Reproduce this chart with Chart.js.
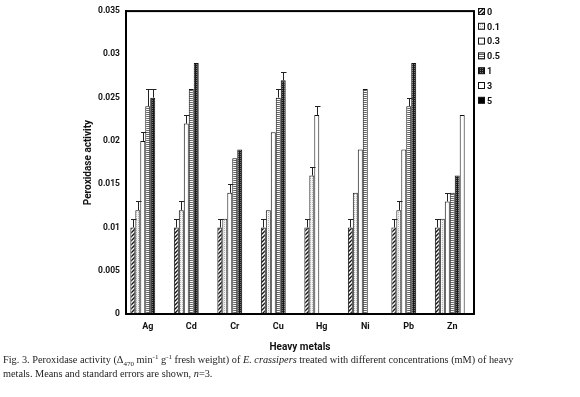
<!DOCTYPE html>
<html><head><meta charset="utf-8">
<script src="https://cdn.jsdelivr.net/npm/chart.js@4/dist/chart.umd.min.js"></script>
<style>
html,body{margin:0;padding:0;background:#fff;width:580px;height:397px;overflow:hidden;}
#wrap{position:relative;width:580px;height:397px;}
canvas{position:absolute;left:0;top:0;}
#cap{position:absolute;left:3px;top:353px;width:575px;font-family:"Liberation Serif","Times New Roman",serif;font-size:10.3px;line-height:14px;color:#222;white-space:nowrap;}
#cap sub,#cap sup{font-size:7px;line-height:0;}
</style></head>
<body><div id="wrap"><canvas id="c" width="580" height="355"></canvas>
<div id="cap">Fig. 3. Peroxidase activity (Δ<sub>470</sub> min<sup>-1</sup> g<sup>-1</sup> fresh weight) of <i>E. crassipers</i> treated with different concentrations (mM) of heavy<br>metals. Means and standard errors are shown, <i>n</i>=3.</div></div>
<script>
const categories = ["Ag","Cd","Cr","Cu","Hg","Ni","Pb","Zn"];
const seriesLabels = ["0","0.1","0.3","0.5","1","3","5"];
const s0   = [0.010,0.010,0.010,0.010,0.010,0.010,0.010,0.010];
const s01  = [0.012,0.012,0.011,0.012,0.016,0.014,0.012,0.011];
const s03  = [0.020,0.022,0.014,0.021,0.023,0.019,0.019,0.013];
const s05  = [0.024,0.026,0.018,0.025,null,0.026,0.024,0.014];
const s1   = [0.025,0.029,0.019,0.027,null,null,0.029,0.016];
const s3   = [null,null,null,null,null,null,null,0.023];
const s5   = [null,null,null,null,null,null,null,null];
const e0   = [0.001,0.001,0.001,0.001,0.001,0.001,0.001,0.001];
const e01  = [0.001,0.001,0,0,0.001,0,0.001,0];
const e03  = [0.001,0.001,0.001,0,0.001,0,0,0.001];
const e05  = [0.002,0,0,0.001,0,0,0.001,0];
const e1   = [0.001,0,0,0.001,0,0,0,0];
const e3   = [0,0,0,0,0,0,0,0];
const e5   = [0,0,0,0,0,0,0,0];
const yTickLabels = ["0","0.005","0.01","0.015","0.02","0.025","0.03","0.035"];

function pat(w,h,draw){const c=document.createElement('canvas');c.width=w;c.height=h;const x=c.getContext('2d');draw(x,w,h);return x.createPattern(c,'repeat');}
const ctx0=document.getElementById('c').getContext('2d');
const pDiag=pat(4,4,(x,w,h)=>{x.fillStyle='#fff';x.fillRect(0,0,w,h);x.strokeStyle='#111';x.lineWidth=1.4;x.beginPath();x.moveTo(-1,5);x.lineTo(5,-1);x.moveTo(-1,1);x.lineTo(1,-1);x.moveTo(3,5);x.lineTo(5,3);x.stroke();});
const pDots=pat(2,2,(x,w,h)=>{x.fillStyle='#f4f4f4';x.fillRect(0,0,w,h);x.fillStyle='#b5b5b5';x.fillRect(0,0,1,1);});
const pH=pat(2,2,(x,w,h)=>{x.fillStyle='#fff';x.fillRect(0,0,w,h);x.fillStyle='#666';x.fillRect(0,0,2,1);});
const pCk=pat(2,2,(x,w,h)=>{x.fillStyle='#1a1a1a';x.fillRect(0,0,w,h);x.fillStyle='#777';x.fillRect(0,0,1,1);});
const fills=[pDiag,pDots,'#ffffff',pH,pCk,'#ffffff','#000000'];
const values=[s0,s01,s03,s05,s1,s3,s5];
const errs=[e0,e01,e03,e05,e1,e3,e5];

const datasets=seriesLabels.map((l,i)=>({label:l,data:values[i],backgroundColor:fills[i],borderColor:'#111',borderWidth:1,borderSkipped:'start',errors:errs[i]}));

const FONT="Roboto, 'DejaVu Sans', sans-serif";
const errPlugin={id:'err',afterDatasetsDraw(chart){const c=chart.ctx;const ys=chart.scales.y;c.save();c.strokeStyle='#222';c.lineWidth=1;
chart.data.datasets.forEach((ds,i)=>{const m=chart.getDatasetMeta(i);ds.data.forEach((v,j)=>{const e=ds.errors[j];if(v==null||!e)return;const el=m.data[j];const x=Math.round(el.x)+0.5;const yt=Math.round(ys.getPixelForValue(v+e))+0.5;c.beginPath();c.moveTo(x,el.y);c.lineTo(x,yt);c.moveTo(x-2.5,yt);c.lineTo(x+3,yt);c.stroke();});});
c.restore();}};
const framePlugin={id:'frame',afterDraw(chart){const a=chart.chartArea;const c=chart.ctx;c.save();c.strokeStyle='#000';c.lineWidth=2;c.strokeRect(a.left,a.top,a.right-a.left,a.bottom-a.top);c.restore();}};
const legendPlugin={id:'leg',afterDraw(chart){const c=chart.ctx;c.save();c.font="bold 9px "+FONT;c.textBaseline='middle';
chart.data.datasets.forEach((ds,i)=>{const y=12+i*14.8;c.fillStyle=ds.backgroundColor;c.fillRect(478.5,y-3.5,6,6);c.strokeStyle='#111';c.lineWidth=1;c.strokeRect(478.5,y-3.5,6,6);c.fillStyle='#111';c.fillText(ds.label,487,y+0.5);});
c.restore();}};

new Chart(ctx0,{type:'bar',data:{labels:categories,datasets},
options:{responsive:false,animation:false,devicePixelRatio:1,
layout:{padding:{left:0,right:106,top:5,bottom:0}},
plugins:{legend:{display:false},tooltip:{enabled:false}},
datasets:{bar:{categoryPercentage:0.8,barPercentage:1.0}},
scales:{
x:{grid:{display:false,drawTicks:false},border:{display:true,color:'#000',width:2},
 ticks:{padding:7,color:'#111',font:{family:FONT,size:9,weight:'bold'}},
 title:{display:true,text:'Heavy metals',color:'#111',font:{family:FONT,size:10,weight:'bold'},padding:{top:0,bottom:2}},
 afterFit(s){s.height=41;}},
y:{min:0,max:0.035,grid:{display:false,drawTicks:false},border:{display:true,color:'#000',width:2},
 ticks:{stepSize:0.005,padding:6,color:'#111',font:{family:FONT,size:8.5,weight:'bold'},callback:(v)=>yTickLabels[Math.round(v/0.005)]},
 title:{display:true,text:'Peroxidase activity',color:'#111',font:{family:FONT,size:10,weight:'bold'},padding:{top:82,bottom:0}},
 afterFit(s){s.width=126;}}
}},plugins:[errPlugin,framePlugin,legendPlugin]});
</script></body></html>
